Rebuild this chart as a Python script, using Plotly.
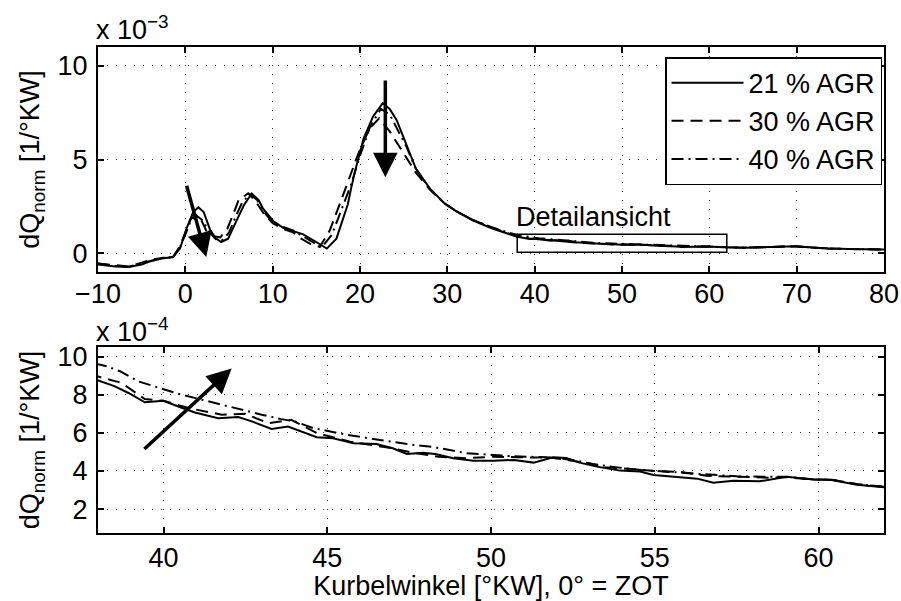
import plotly.graph_objects as go

# ---------------- data (dQ_norm in units of 1e-4 1/°KW) ----------------
x21 = [-10, -8, -6.5, -5, -4.2, -2.7, -1.4, -0.6, 0.2, 0.9, 1.5, 2.1, 2.85, 3.5, 4.1, 4.9, 5.7, 6.7, 7.6, 8.4,
       8.9, 10.1, 11.2, 12.4, 13.5, 15.0, 16.2, 17.3, 18.3, 18.6, 19.0, 19.5, 20.4, 21.5, 22.6, 23.4, 24.2, 25.3,
       26.4, 28.0, 29.7, 31.0, 32.9, 35.0, 37.0,
       38.0, 38.5, 38.93, 39.43, 40.0, 40.45, 40.96, 41.67, 42.28, 42.7, 43.3, 43.8, 44.68, 45.18, 45.8, 46.5,
       47.0, 47.43, 47.93, 48.3, 48.85, 49.46, 50.07, 50.7, 51.3, 51.9, 52.3, 52.7, 53.23, 53.94, 54.55, 54.96,
       55.77, 56.3, 56.79, 57.4, 58.2, 59.03, 59.84, 60.4, 61.17, 62.0,
       64, 66, 68, 69.8, 71, 73.6, 76, 80]
y21 = [-6.0, -7.0, -7.3, -6.0, -4.6, -2.8, -2.0, 2.7, 14, 22, 24.5, 22, 12.3, 8.0, 6.0, 7.8, 15.8, 25.6, 31.9, 28.3,
       23.8, 17.0, 13.5, 11.7, 10.1, 6.0, 2.5, 7.8, 21, 26, 35, 45, 61, 73, 80, 77, 71, 57.7,
       45.2, 34.5, 26.5, 22.5, 17.6, 13.5, 10.5,
       8.75, 8.45, 8.09, 7.6, 7.68, 7.38, 7.07, 6.77, 6.83, 6.6, 6.2, 6.33, 5.77, 5.72, 5.46, 5.42,
       5.19, 4.89, 4.96, 4.89, 4.67, 4.54, 4.54, 4.58, 4.44, 4.72, 4.68, 4.44, 4.23, 4.02, 3.97, 3.79,
       3.67, 3.6, 3.38, 3.49, 3.46, 3.7, 3.56, 3.53, 3.28, 3.15,
       3.0, 3.2, 3.3, 3.7, 3.3, 2.5, 2.3, 2.0]

x30 = [-10, -8, -6.5, -5, -4.0, -2.7, -1.4, -0.6, 0.0, 0.6, 1.2, 1.8, 2.5, 3.4, 4.0, 4.8, 5.5, 6.1, 7.2, 8.0,
       9.0, 10.0, 11.2, 12.4, 13.2, 14.3, 15.4, 16.55, 17.7, 18.8, 19.8, 21.1, 22.2, 23.4, 24.5, 25.5, 26.4,
       28.0, 29.7, 31.0, 32.9, 35.0, 37.0,
       38.0, 38.72, 39.43, 40.0, 40.76, 41.78, 42.49, 43.2, 43.9, 44.7, 45.7, 46.3, 47.0, 47.6, 48.4, 49.25,
       50.07, 50.8, 51.86, 53.0, 53.5, 54.3, 55.0, 55.8, 56.6, 57.5, 58.5, 59.0, 59.8, 60.4, 61.2, 62.0,
       64, 66, 68, 69.8, 71, 73.6, 76, 80]
y30 = [-5.5, -6.5, -7.0, -5.0, -3.5, -2.5, -2.0, 4.0, 11, 18, 20.5, 18, 11, 9.0, 8.5, 13, 21, 28.3, 32, 28,
       21, 16, 13, 11, 8, 5, 3.4, 12.3, 26.5, 39.9, 53, 66.6, 72, 65, 57, 50, 43,
       34, 26.5, 22.5, 17.8, 13.8, 10.8,
       8.95, 8.62, 7.77, 7.68, 7.3, 6.95, 7.0, 6.51, 6.68, 5.98, 5.54, 5.37, 5.19, 4.96, 4.75, 4.67,
       4.75, 4.72, 4.7, 4.4, 4.2, 4.1, 4.0, 3.95, 3.75, 3.7, 3.65, 3.68, 3.56, 3.55, 3.3, 3.18,
       3.0, 3.2, 3.3, 3.7, 3.3, 2.5, 2.3, 2.0]

x40 = [-10, -8, -6.5, -5, -4.0, -2.7, -1.4, -0.6, 0.0, 0.6, 1.3, 2.0, 2.7, 3.5, 4.2, 5.0, 5.8, 6.5, 7.4, 8.2,
       9.0, 10.0, 11.2, 12.4, 13.5, 14.5, 15.6, 16.8, 17.9, 19.0, 20.0, 21.2, 22.4, 23.4, 24.4, 25.3, 26.4,
       28.0, 29.7, 31.0, 32.9, 35.0, 37.0,
       38.0, 38.27, 38.67, 39.23, 40.05, 40.45, 41.17, 41.88, 42.39, 43.0, 43.6, 44.0, 44.57, 45.6, 46.6, 47.6,
       48.2, 49.26, 50.07, 50.7, 51.7, 52.5, 53.1, 53.8, 54.6, 55.5, 56.5, 57.5, 58.5, 59.0, 59.8, 60.4, 61.2, 62.0,
       64, 66, 68, 69.8, 71, 73.6, 76, 80]
y40 = [-5.5, -6.8, -7.2, -5.5, -4.0, -2.5, -2.0, 3.5, 10, 17, 20, 17.5, 11.5, 7.5, 7.0, 11, 20, 27, 31.5, 28.5,
       22, 16.5, 14, 12, 9, 6, 3, 10, 23, 37, 52, 68, 77, 74, 65, 57, 45,
       34.2, 26.5, 22.5, 17.8, 14.0, 11.0,
       9.6, 9.49, 9.23, 8.7, 8.26, 8.05, 7.74, 7.42, 7.21, 6.95, 6.72, 6.6, 6.25, 5.9, 5.63, 5.37,
       5.27, 4.93, 4.84, 4.77, 4.72, 4.58, 4.37, 4.2, 4.05, 3.95, 3.85, 3.72, 3.7, 3.7, 3.57, 3.54, 3.3, 3.18,
       3.0, 3.2, 3.3, 3.7, 3.3, 2.5, 2.3, 2.0]

series_names = ["21 % AGR", "30 % AGR", "40 % AGR"]
top_xticks = [-10, 0, 10, 20, 30, 40, 50, 60, 70, 80]
top_yticks = [0, 5, 10]
bot_xticks = [40, 45, 50, 55, 60]
bot_yticks = [2, 4, 6, 8, 10]
detail_x = [38, 62]          # Detailansicht window (°KW)
detail_y = [0.06, 1.02]      # in 1e-3

FONT = "Liberation Sans, Arial, Helvetica, sans-serif"
FS = 27

dashes = ["solid", "12px,7px", "12px,5px,2px,5px"]
xs = [x21, x30, x40]
ys = [y21, y30, y40]

fig = go.Figure()
for i in range(3):
    # top panel in units of 1e-3
    fig.add_trace(go.Scatter(x=xs[i], y=[v / 10 for v in ys[i]], mode="lines", name=series_names[i],
                             line=dict(color="black", width=2, dash=dashes[i]),
                             xaxis="x", yaxis="y", showlegend=True))
    # bottom panel in units of 1e-4
    fig.add_trace(go.Scatter(x=xs[i], y=ys[i], mode="lines", name=series_names[i],
                             line=dict(color="black", width=2, dash=dashes[i]),
                             xaxis="x2", yaxis="y2", showlegend=False))

axis_common = dict(showline=True, linecolor="black", linewidth=2, mirror="ticks", ticks="inside",
                   ticklen=6, tickwidth=1.5, tickcolor="black", showgrid=True, gridcolor="#333",
                   griddash="1px,8px", gridwidth=1, zeroline=False, automargin=False,
                   tickfont=dict(family=FONT, size=FS, color="black"))

fig.update_layout(
    width=901, height=601,
    margin=dict(l=98, r=17, t=47, b=68),
    paper_bgcolor="white", plot_bgcolor="white",
    font=dict(family=FONT, size=FS, color="black"),
    xaxis=dict(domain=[0, 1], anchor="y", range=[-10, 80], tickvals=top_xticks, ticklabelstandoff=-3,
               **axis_common),
    yaxis=dict(domain=[0.537, 1], anchor="x", range=[-1, 11], tickvals=top_yticks, ticklabelstandoff=3,
               title=dict(text="dQ<sub>norm</sub> [1/°KW]", standoff=10, font=dict(size=FS)), **axis_common),
    xaxis2=dict(domain=[0, 1], anchor="y2", range=[38, 62], tickvals=bot_xticks,
                title=dict(text="Kurbelwinkel [°KW], 0° = ZOT", standoff=2, font=dict(size=FS)), **axis_common),
    yaxis2=dict(domain=[0, 0.3827], anchor="x2", range=[0.75, 10.5], tickvals=bot_yticks, ticklabelstandoff=3,
                title=dict(text="dQ<sub>norm</sub> [1/°KW]", standoff=10, font=dict(size=FS)), **axis_common),
    legend=dict(x=0.9975, y=0.979, xanchor="right", yanchor="top", bgcolor="white",
                bordercolor="black", borderwidth=1.5, font=dict(family=FONT, size=FS),
                itemwidth=72, tracegroupgap=0),
    showlegend=True,
)

# detail window
fig.add_shape(type="rect", xref="x", yref="y", x0=detail_x[0], x1=detail_x[1], y0=detail_y[0], y1=detail_y[1],
              line=dict(color="black", width=1.5))
fig.add_annotation(x=detail_x[0], y=detail_y[1], xref="x", yref="y", text="Detailansicht", showarrow=False,
                   xanchor="left", yanchor="bottom", yshift=0, xshift=-3, font=dict(size=FS))

# exponent labels
fig.add_annotation(x=0, y=1, xref="paper", yref="paper", text="x 10<sup>−3</sup>", showarrow=False,
                   xanchor="left", yanchor="bottom", yshift=0, xshift=-4, font=dict(size=FS))
fig.add_annotation(x=0, y=0.3827, xref="paper", yref="paper", text="x 10<sup>−4</sup>", showarrow=False,
                   xanchor="left", yanchor="bottom", yshift=-2, xshift=-4, font=dict(size=FS))

# trend arrows (tail -> head)
arrows = [("x", "y", 0.1, 3.68, 2.4, -0.2), ("x", "y", 22.9, 9.3, 22.9, 4.06),
          ("x2", "y2", 39.37, 5.08, 42.08, 9.37)]
for xr, yr, tx, ty, hx, hy in arrows:
    fig.add_annotation(x=hx, y=hy, ax=tx, ay=ty, xref=xr, yref=yr, axref=xr, ayref=yr, text="",
                       showarrow=True, arrowhead=2, arrowsize=1.4, arrowwidth=3.5, arrowcolor="black")

fig.write_html("out.html")
